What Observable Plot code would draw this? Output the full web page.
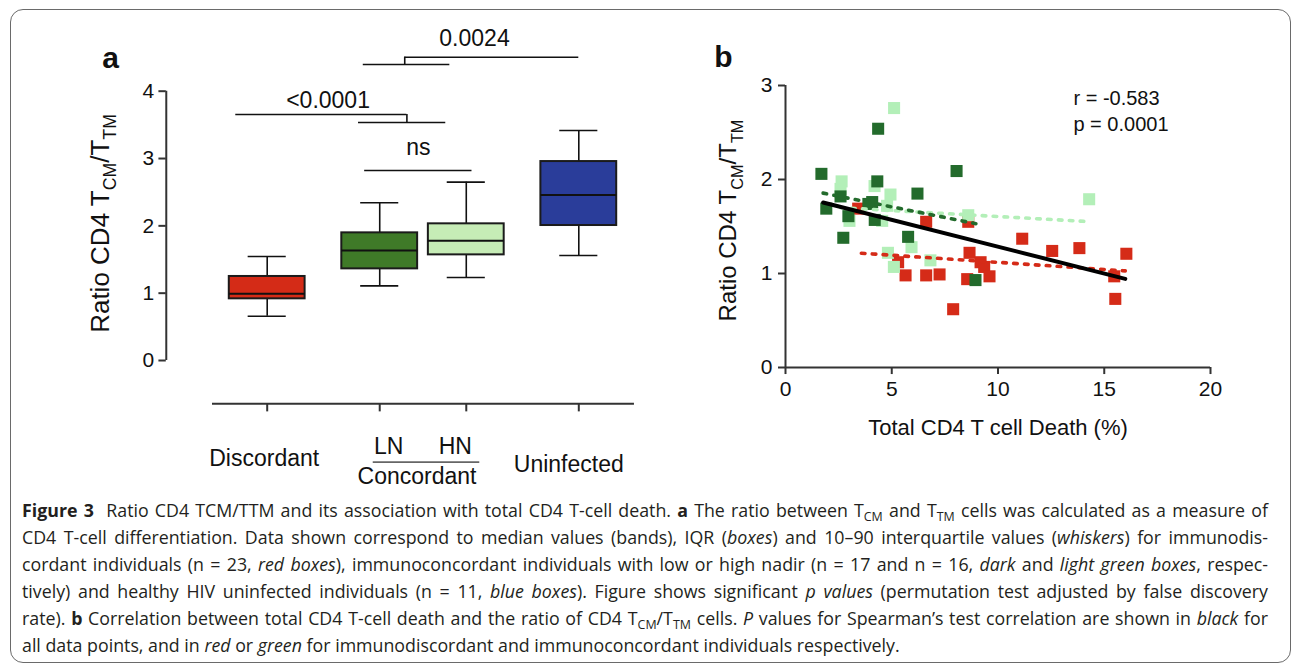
<!DOCTYPE html>
<html><head><meta charset="utf-8">
<script src="https://cdn.jsdelivr.net/npm/d3@7"></script>
<script src="https://cdn.jsdelivr.net/npm/@observablehq/plot@0.6"></script>
<style>
body{margin:0;background:#fff;}
#fig{position:relative;width:1293px;height:664px;overflow:hidden;font-family:"Liberation Sans",Arial,sans-serif;background:#fff;}
#border{position:absolute;left:10px;top:9px;width:1281px;height:654px;border:1.3px solid #6a6a6a;border-radius:13px;box-sizing:border-box;}
#pa{position:absolute;left:0;top:0;}
#pb{position:absolute;left:660px;top:0;}
#cap{position:absolute;left:22px;top:497px;width:1246px;font-family:"Open Sans",sans-serif;font-size:17.8px;line-height:27px;color:#231f20;}
#cap .ln{white-space:nowrap;text-align:justify;text-align-last:justify;transform-origin:0 50%;}
#cap .ln.last{text-align-last:left;}
#cap sub{font-size:70%;line-height:0;vertical-align:-0.3em;}
</style></head>
<body>
<div id="fig">
  <div id="border"></div>
  <div id="pa"></div>
  <div id="pb"></div>
  <div id="cap">
    <div class="ln"><b>Figure 3</b>&nbsp; Ratio CD4 TCM/TTM and its association with total CD4 T-cell death. <b>a</b> The ratio between T<sub>CM</sub> and T<sub>TM</sub> cells was calculated as a measure of</div>
    <div class="ln">CD4 T-cell differentiation. Data shown correspond to median values (bands), IQR (<i>boxes</i>) and 10–90 interquartile values (<i>whiskers</i>) for immunodis-</div>
    <div class="ln">cordant individuals (n = 23, <i>red boxes</i>), immunoconcordant individuals with low or high nadir (n = 17 and n = 16, <i>dark</i> and <i>light green boxes</i>, respec-</div>
    <div class="ln">tively) and healthy HIV uninfected individuals (n = 11, <i>blue boxes</i>). Figure shows significant <i>p values</i> (permutation test adjusted by false discovery</div>
    <div class="ln">rate). <b>b</b> Correlation between total CD4 T-cell death and the ratio of CD4 T<sub>CM</sub>/T<sub>TM</sub> cells. <i>P</i> values for Spearman’s test correlation are shown in <i>black</i> for</div>
    <div class="ln last">all data points, and in <i>red</i> or <i>green</i> for immunodiscordant and immunoconcordant individuals respectively.</div>
  </div>
</div>
<script>
// ---------- Panel a data ----------
const groups = ["Discordant", "LN", "HN", "Uninfected"];
const q1     = [0.916, 1.361, 1.569, 2.005];
const median = [0.990, 1.634, 1.777, 2.460];
const q3     = [1.248, 1.896, 2.030, 2.955];
const p10    = [0.658, 1.109, 1.233, 1.559];
const p90    = [1.545, 2.342, 2.649, 3.416];
const yTicksA = [0, 1, 2, 3, 4];
const pLabels = ["<0.0001", "ns", "0.0024"];

// ---------- Panel b data ----------
const discX = [3.42, 6.62, 8.60, 8.66, 9.18, 9.35, 9.60, 8.55, 5.65, 6.62, 7.25, 7.89, 11.14, 12.55, 13.83, 16.04, 15.47, 15.52, 5.30];
const discY = [1.69, 1.55, 1.55, 1.22, 1.12, 1.07, 0.97, 0.94, 0.98, 0.98, 0.99, 0.62, 1.37, 1.24, 1.27, 1.21, 0.97, 0.73, 1.12];
const lnX = [1.69, 1.92, 2.59, 2.96, 2.72, 4.36, 4.32, 4.08, 4.20, 6.21, 5.77, 8.05, 8.94, 3.90];
const lnY = [2.06, 1.69, 1.82, 1.61, 1.38, 2.54, 1.98, 1.76, 1.57, 1.85, 1.39, 2.09, 0.93, 1.74];
const hnX = [5.11, 2.64, 2.59, 3.01, 4.19, 4.94, 4.78, 4.55, 4.82, 5.10, 5.93, 6.82, 8.60, 14.29];
const hnY = [2.76, 1.98, 1.90, 1.56, 1.93, 1.84, 1.72, 1.56, 1.22, 1.07, 1.28, 1.14, 1.62, 1.79];
const fitAllX = [1.77, 15.99],  fitAllY = [1.755, 0.943];
const fitDiscX = [3.57, 15.99], fitDiscY = [1.216, 1.028];
const fitLnX = [1.77, 8.96],    fitLnY = [1.855, 1.530];
const fitHnX = [2.60, 14.20],   fitHnY = [1.700, 1.553];
const xTicksB = [0, 5, 10, 15, 20];
const yTicksB = [0, 1, 2, 3];
const statLines = ["r = -0.583", "p = 0.0001"];

// ---------- styles / layout ----------
const boxFill = {Discordant: "#d42b17", LN: "#3f7a28", HN: "#c6ecb6", Uninfected: "#2a3d9a"};
const pos = {Discordant: 0, LN: 1.3, HN: 2.3, Uninfected: 3.6};
const FONT = "'Liberation Sans', Arial, Helvetica, sans-serif";
const AX = "#333";
const boxHalf = 0.438, capHalf = 0.22;
const yAxisXa = -1.166;      // detached y axis of panel a
const xAxisYa = -0.643;      // detached x axis of panel a

const boxes = groups.map((g, i) => ({g, x: pos[g], q1: q1[i], median: median[i], q3: q3[i], p10: p10[i], p90: p90[i]}));
const midC = (pos.LN + pos.HN) / 2;

const pa = Plot.plot({
  width: 660, height: 500, margin: 0,
  style: {fontFamily: FONT, background: "transparent", overflow: "visible"},
  x: {type: "linear", domain: [0, 3.6], range: [266.7, 578.3], axis: null},
  y: {type: "linear", domain: [0, 4], range: [360, 90.7], axis: null},
  marks: [
    // y axis
    Plot.ruleX([yAxisXa], {y1: 0, y2: 4, stroke: AX, strokeWidth: 2}),
    Plot.ruleY(yTicksA, {x1: yAxisXa - 0.085, x2: yAxisXa, y: d => d, stroke: AX, strokeWidth: 2}),
    Plot.text(yTicksA, {x: yAxisXa, y: d => d, text: d => String(d), dx: -12, textAnchor: "end", fontSize: 21, fill: "#111"}),
    Plot.text(["Ratio CD4 TCM/TTM"], {x: yAxisXa, y: 2.035, dx: -66, rotate: -90, fontSize: 26, fill: "#111"}),
    Plot.text(["a"], {frameAnchor: "top-left", dx: 110, dy: 58, textAnchor: "middle", lineAnchor: "middle", fontSize: 30, fontWeight: "bold", fill: "#111"}),
    // x axis
    Plot.ruleY([xAxisYa], {x1: -0.632, x2: 4.243, stroke: AX, strokeWidth: 2}),
    Plot.ruleX(groups, {x: g => pos[g], y1: xAxisYa, y2: xAxisYa - 0.12, stroke: AX, strokeWidth: 2}),
    Plot.text(["Discordant"], {x: pos.Discordant, y: xAxisYa, dx: -3, dy: 55, fontSize: 23, fill: "#111"}),
    Plot.text(["LN"], {x: pos.LN, y: xAxisYa, dx: 9, dy: 43, fontSize: 23, fill: "#111"}),
    Plot.text(["HN"], {x: pos.HN, y: xAxisYa, dx: -11, dy: 43, fontSize: 23, fill: "#111"}),
    Plot.ruleY([-1.51], {x1: 1.225, x2: 2.456, stroke: "#666", strokeWidth: 1.6}),
    Plot.text(["Concordant"], {x: midC, y: xAxisYa, dx: -6, dy: 73, fontSize: 23, fill: "#111"}),
    Plot.text(["Uninfected"], {x: pos.Uninfected, y: xAxisYa, dx: -10, dy: 61, fontSize: 23, fill: "#111"}),
    // whiskers
    Plot.ruleX(boxes, {x: "x", y1: "q3", y2: "p90", stroke: "#111", strokeWidth: 1.6}),
    Plot.ruleX(boxes, {x: "x", y1: "p10", y2: "q1", stroke: "#111", strokeWidth: 1.6}),
    Plot.ruleY(boxes, {y: "p90", x1: d => d.x - capHalf, x2: d => d.x + capHalf, stroke: "#111", strokeWidth: 1.6}),
    Plot.ruleY(boxes, {y: "p10", x1: d => d.x - capHalf, x2: d => d.x + capHalf, stroke: "#111", strokeWidth: 1.6}),
    // boxes
    Plot.rect(boxes, {x1: d => d.x - boxHalf, x2: d => d.x + boxHalf, y1: "q1", y2: "q3", fill: d => boxFill[d.g], stroke: "#1b1b1b", strokeWidth: 2}),
    Plot.ruleY(boxes, {y: "median", x1: d => d.x - boxHalf, x2: d => d.x + boxHalf, stroke: "#111", strokeWidth: 2}),
    // significance brackets
    Plot.ruleY([3.654], {x1: pos.Discordant - 0.363, x2: 1.614, stroke: "#111", strokeWidth: 1.6}),
    Plot.ruleX([1.614], {y1: 3.535, y2: 3.654, stroke: "#111", strokeWidth: 1.6}),
    Plot.ruleY([3.535], {x1: pos.LN - 0.245, x2: pos.HN - 0.237, stroke: "#111", strokeWidth: 1.6}),
    Plot.text([pLabels[0]], {x: 0.703, y: 3.86, fontSize: 23, fill: "#111"}),
    Plot.ruleY([2.822], {x1: pos.LN - 0.174, x2: pos.HN + 0.066, stroke: "#111", strokeWidth: 1.6}),
    Plot.text([pLabels[1]], {x: 1.747, y: 3.16, fontSize: 23, fill: "#111"}),
    Plot.ruleY([4.505], {x1: 1.589, x2: pos.Uninfected, stroke: "#111", strokeWidth: 1.6}),
    Plot.ruleX([1.589], {y1: 4.396, y2: 4.505, stroke: "#111", strokeWidth: 1.6}),
    Plot.ruleY([4.396], {x1: pos.LN - 0.19, x2: pos.HN - 0.19, stroke: "#111", strokeWidth: 1.6}),
    Plot.text([pLabels[2]], {x: 2.395, y: 4.78, fontSize: 23, fill: "#111"})
  ]
});
document.getElementById("pa").appendChild(pa);

const pts = (xs, ys) => xs.map((x, i) => ({x, y: ys[i]}));
const SQ = 6.8;
const pb = Plot.plot({
  width: 633, height: 500, margin: 0,
  style: {fontFamily: FONT, background: "transparent", overflow: "visible"},
  x: {type: "linear", domain: [0, 20], range: [125, 550], axis: null},
  y: {type: "linear", domain: [0, 3], range: [367, 85], axis: null},
  marks: [
    Plot.dot(pts(discX, discY), {x: "x", y: "y", symbol: "square", r: SQ, fill: "#d52b18", stroke: "none"}),
    Plot.dot(pts(hnX, hnY), {x: "x", y: "y", symbol: "square", r: SQ, fill: "#b3efb8", stroke: "none"}),
    Plot.dot(pts(lnX, lnY), {x: "x", y: "y", symbol: "square", r: SQ, fill: "#236b2c", stroke: "none"}),
    Plot.line(pts(fitHnX, fitHnY), {x: "x", y: "y", stroke: "#b3efb8", strokeWidth: 3.6, strokeDasharray: "3.6,7.3"}),
    Plot.line(pts(fitDiscX, fitDiscY), {x: "x", y: "y", stroke: "#d52b18", strokeWidth: 3.6, strokeDasharray: "3.6,7.3"}),
    Plot.line(pts(fitLnX, fitLnY), {x: "x", y: "y", stroke: "#236b2c", strokeWidth: 3.6, strokeDasharray: "3.6,7.3"}),
    Plot.line(pts(fitAllX, fitAllY), {x: "x", y: "y", stroke: "#000", strokeWidth: 4}),
    // axes
    Plot.ruleX([0], {y1: 0, y2: 3, stroke: AX, strokeWidth: 2}),
    Plot.ruleY([0], {x1: 0, x2: 20, stroke: AX, strokeWidth: 2}),
    Plot.ruleY(yTicksB, {y: d => d, x1: -0.33, x2: 0, stroke: AX, strokeWidth: 2}),
    Plot.ruleX(xTicksB, {x: d => d, y1: 0, y2: -0.075, stroke: AX, strokeWidth: 2}),
    Plot.text(yTicksB, {x: 0, y: d => d, text: d => String(d), dx: -13, textAnchor: "end", fontSize: 21, fill: "#111"}),
    Plot.text(xTicksB, {x: d => d, y: 0, text: d => String(d), dy: 22, fontSize: 21, fill: "#111"}),
    Plot.text(["Total CD4 T cell Death (%)"], {x: 10, y: 0, dy: 60, fontSize: 22, fill: "#111"}),
    Plot.text(["Ratio CD4 TCM/TTM"], {x: 0, y: 1.564, dx: -57, rotate: -90, fontSize: 24, fill: "#111"}),
    Plot.text(statLines, {x: 13.55, y: (d, i) => [2.862, 2.585][i], textAnchor: "start", fontSize: 20, fill: "#111"}),
    Plot.text(["b"], {frameAnchor: "top-left", dx: 63, dy: 57, textAnchor: "middle", lineAnchor: "middle", fontSize: 30, fontWeight: "bold", fill: "#111"})
  ]
});
document.getElementById("pb").appendChild(pb);

// subscripts in the y-axis titles
function subscriptTitle(svg) {
  d3.select(svg).selectAll("text").each(function () {
    if (this.textContent !== "Ratio CD4 TCM/TTM") return;
    const fs = parseFloat(this.getAttribute("font-size") || getComputedStyle(this).fontSize) || 24;
    const sh = fs * 0.3, ss = fs * 0.68;
    const t = d3.select(this);
    t.selectAll("*").remove();
    t.text(null);
    t.append("tspan").text("Ratio CD4 T");
    t.append("tspan").attr("dy", sh).attr("font-size", ss).text("CM");
    t.append("tspan").attr("dy", -sh).text("/T");
    t.append("tspan").attr("dy", sh).attr("font-size", ss).text("TM");
  });
}
subscriptTitle(pa);
subscriptTitle(pb);

// fit caption lines to the column width (justify short lines, condense long ones)
function fitCaption() {
  const W = 1246;
  document.querySelectorAll("#cap .ln").forEach(el => {
    el.style.transform = "none";
    el.style.width = "";
    el.style.display = "inline-block";
    const w = el.getBoundingClientRect().width;
    el.style.display = "block";
    if (w > W) {
      el.style.width = w + "px";
      el.style.transform = "scaleX(" + (W / w) + ")";
    }
  });
}
fitCaption();
if (document.fonts) document.fonts.ready.then(fitCaption);
</script>
</body></html>
